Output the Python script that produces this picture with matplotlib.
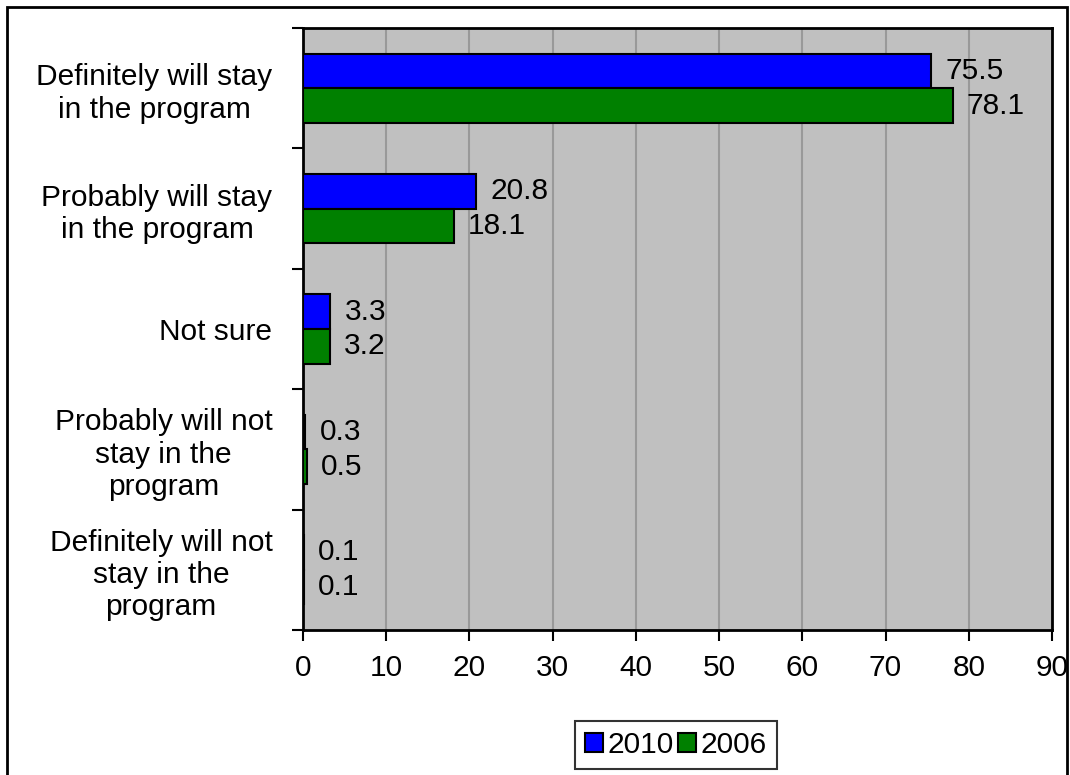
import matplotlib
matplotlib.use("Agg")
import matplotlib.pyplot as plt
from matplotlib.patches import Rectangle
import numpy as np

categories = ["Definitely will stay\nin the program",
              "Probably will stay\nin the program",
              "Not sure",
              "Probably will not\nstay in the\nprogram",
              "Definitely will not\nstay in the\nprogram"]
vals_2010 = [75.5, 20.8, 3.3, 0.3, 0.1]
vals_2006 = [78.1, 18.1, 3.2, 0.5, 0.1]
labels_2010 = ["75.5", "20.8", "3.3", "0.3", "0.1"]
labels_2006 = ["78.1", "18.1", "3.2", "0.5", "0.1"]
xticks = [0, 10, 20, 30, 40, 50, 60, 70, 80, 90]

plt.rcParams['font.family'] = ['Liberation Sans', 'DejaVu Sans']
FS = 21.5

fig = plt.figure(figsize=(10.7, 7.75), dpi=100)
ax = fig.add_axes([303/1070, 1-630/775, (1052-303)/1070, (630-28)/775])
ax.set_facecolor('#C0C0C0')

y = np.arange(len(categories))
h = 0.2875
ax.barh(y - h/2, vals_2010, height=h, color='#0000FF', edgecolor='black', linewidth=1.5, label='2010', zorder=3)
ax.barh(y + h/2, vals_2006, height=h, color='#008000', edgecolor='black', linewidth=1.5, label='2006', zorder=3)

for i in range(len(categories)):
    ax.annotate(labels_2010[i], (vals_2010[i], y[i] - h/2), xytext=(14, 0), textcoords='offset pixels',
                va='center', ha='left', fontsize=FS, zorder=4)
    ax.annotate(labels_2006[i], (vals_2006[i], y[i] + h/2), xytext=(14, 0), textcoords='offset pixels',
                va='center', ha='left', fontsize=FS, zorder=4)

ax.set_xlim(0, 90)
ax.set_ylim(len(categories) - 0.5, -0.5)
ax.set_xticks(xticks)
ax.set_xticklabels([str(t) for t in xticks], fontsize=FS)
ax.grid(axis='x', color='#999999', linewidth=1.5, zorder=1)
ax.set_axisbelow(True)

ax.set_yticks(np.arange(-0.5, len(categories), 1.0))
ax.set_yticklabels([])
ax.set_yticks(y, minor=True)
ax.set_yticklabels(categories, minor=True, fontsize=FS, multialignment='center', linespacing=1.2)
ax.tick_params(axis='y', which='major', length=8, width=1.5, direction='out')
ax.tick_params(axis='y', which='minor', length=0, pad=22)
ax.tick_params(axis='x', which='major', length=8, width=1.5, direction='out', pad=9)

for s in ax.spines.values():
    s.set_linewidth(2)
    s.set_color('black')

leg = fig.legend(loc='center', bbox_to_anchor=(676/1070, 1-745/775), ncol=2, fontsize=FS,
                 frameon=True, fancybox=False, edgecolor='black', handlelength=0.6, handleheight=0.6,
                 handletextpad=0.15, columnspacing=0.15, borderpad=0.35, borderaxespad=0)
leg.get_frame().set_linewidth(1.5)

fig.patches.append(Rectangle((7/1070, -0.1), (1067-7)/1070, 1.1 - 7/775, transform=fig.transFigure,
                             fill=False, edgecolor='black', linewidth=2))

fig.savefig('out.png', dpi=100, facecolor='white')
